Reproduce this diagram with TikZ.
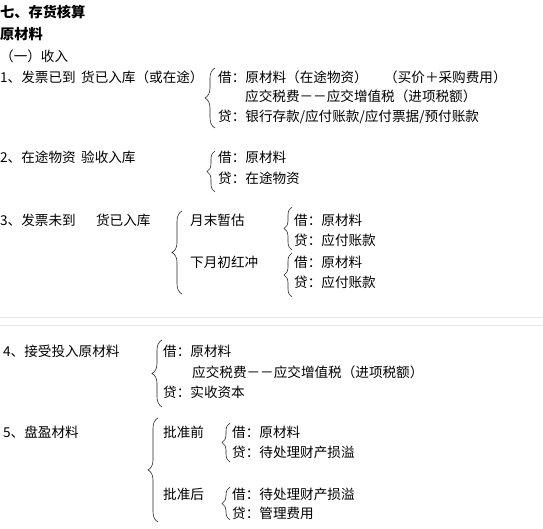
\documentclass[tikz,border=0pt]{standalone}
\usepackage{fontspec}
\setmainfont{Noto Sans CJK SC}
\usetikzlibrary{decorations.pathreplacing}
\tikzset{
  txt/.style={anchor=west, inner sep=0pt, font=\fontsize{13.6pt}{16pt}\selectfont, text height=11.6pt, text depth=2pt},
  head/.style={txt, font=\fontsize{14.2pt}{17pt}\selectfont\bfseries},
  brc/.style={decorate, decoration={brace, amplitude=#1}, line width=0.6pt, black!85},
  brc/.default=10pt,
  sepline/.style={draw=black!9, line width=0.8pt}
}
\begin{document}
\begin{tikzpicture}[x=1pt, y=-1pt]
		    \useasboundingbox (0,0) rectangle (543,529);
		    \node (title) at (0,13) [head] {七、存货核算};
		    \node (raw) at (0,35) [head] {原材料};
		    \node (income) at (0,57) [txt] {（一）收入};
		    % 1
		    \node (q1) at (0,78) [txt] {1、发票已到\hspace{0.4em}货已入库（或在途）};
		    \draw [brc] (215,128) -- (215,68);
		    \node (dr1) at (218,78) [txt] {借：原材料（在途物资）};
		    \node (price) at (384,78) [txt] {（买价＋采购费用）};
		    \node (tax1) at (245,97) [txt] {应交税费－－应交增值税（进项税额）};
		    \node (cr1) at (218,117) [txt] {贷：银行存款/应付账款/应付票据/预付账款};
		    % 2
		    \node (q2) at (0,158) [txt] {2、在途物资\hspace{0.4em}验收入库};
		    \draw [brc=8pt] (215,192) -- (215,151);
		    \node (dr2) at (218,158) [txt] {借：原材料};
		    \node (cr2) at (218,179) [txt] {贷：在途物资};
		    % 3
		    \node (q3) at (0,221) [txt] {3、发票未到\hspace{1.5em}货已入库};
		    \draw [brc] (182,294) -- (182,211);
		    \node (est) at (190,221) [txt] {月末暂估};
		    \node (red) at (190,263) [txt] {下月初红冲};
		    \draw [brc=8pt] (292,250) -- (292,207);
		    \node (dr3a) at (294,221) [txt] {借：原材料};
		    \node (cr3a) at (294,241) [txt] {贷：应付账款};
		    \draw [brc=8pt] (292,297) -- (292,253);
		    \node (dr3b) at (294,263) [txt] {借：原材料};
		    \node (cr3b) at (294,283) [txt] {贷：应付账款};
		    % separator
		    \draw [sepline] (0,317) -- (543,317);
		    \draw [sepline] (0,325) -- (543,325);
		    % 4
		    \node (q4) at (3,352) [txt] {4、接受投入原材料};
		    \draw [brc] (162,407) -- (162,340);
		    \node (dr4) at (163,352) [txt] {借：原材料};
		    \node (tax4) at (192,373) [txt] {应交税费－－应交增值税（进项税额）};
		    \node (cr4) at (163,393) [txt] {贷：实收资本};
		    % 5
		    \node (q5) at (3,433) [txt] {5、盘盈材料};
		    \draw [brc] (158,522) -- (158,418);
		    \node (before) at (163,433) [txt] {批准前};
		    \node (after) at (163,495) [txt] {批准后};
		    \draw [brc=8pt] (230,462) -- (230,423);
		    \node (dr5a) at (232,433) [txt] {借：原材料};
		    \node (cr5a) at (232,453) [txt] {贷：待处理财产损溢};
		    \draw [brc=8pt] (230,520) -- (230,487);
		    \node (dr5b) at (232,495) [txt] {借：待处理财产损溢};
		    \node (cr5b) at (232,514) [txt] {贷：管理费用};
		\end{tikzpicture}
\end{document}
